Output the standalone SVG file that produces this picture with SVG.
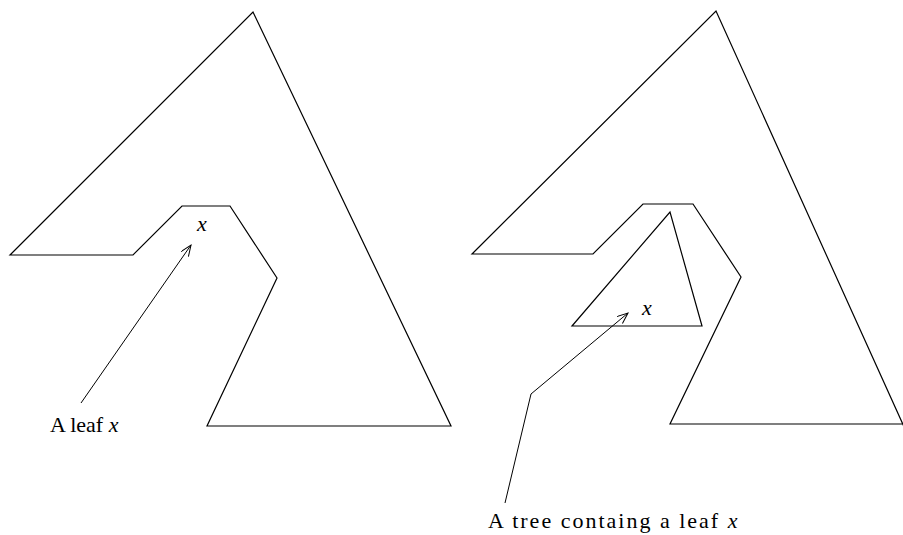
<svg xmlns="http://www.w3.org/2000/svg" width="903" height="535" viewBox="0 0 903 535">
<defs>
<marker id="arr" markerWidth="12" markerHeight="10" refX="11" refY="4.5" orient="auto" markerUnits="userSpaceOnUse">
<path d="M0,0 L11,4.5 L0,9" fill="none" stroke="#000" stroke-width="1"/>
</marker>
<style>
.shape{fill:none;stroke:#000;stroke-width:1.2;stroke-linejoin:miter}
.conn{fill:none;stroke:#000;stroke-width:1}
.lbl{font-family:"Liberation Serif","Times New Roman",serif;font-size:22px;fill:#000}
.var{font-family:"Liberation Serif","Times New Roman",serif;font-style:italic;font-size:22px;fill:#000}
</style>
</defs>
<rect width="903" height="535" fill="#fff"/>
<g id="tree-left">
<polygon class="shape" points="10,255 253,12 451,426 207,426 277,278 230,206 182,206 133,255"/>
<text class="var" x="197" y="231">x</text>
</g>
<g id="tree-right">
<polygon class="shape" points="472,254 716,11 910,440 910,424 670,424 741,277 693,204 643,204 593,254"/>
<text class="var" x="642" y="315">x</text>
</g>
<g id="subtree">
<polygon class="shape" points="572,326 670,212 702,326"/>
</g>
<g id="label-left">
<text class="lbl" x="50" y="432">A leaf <tspan class="var">x</tspan></text>
</g>
<g id="label-right">
<text class="lbl" x="488" y="528" letter-spacing="2">A tree containg a leaf <tspan class="var" letter-spacing="0">x</tspan></text>
</g>
<g id="connectors">
<path class="conn" d="M81,403 L191,245" marker-end="url(#arr)"/>
<path class="conn" d="M505,503 L531,394 L628,313" marker-end="url(#arr)"/>
</g>
</svg>
